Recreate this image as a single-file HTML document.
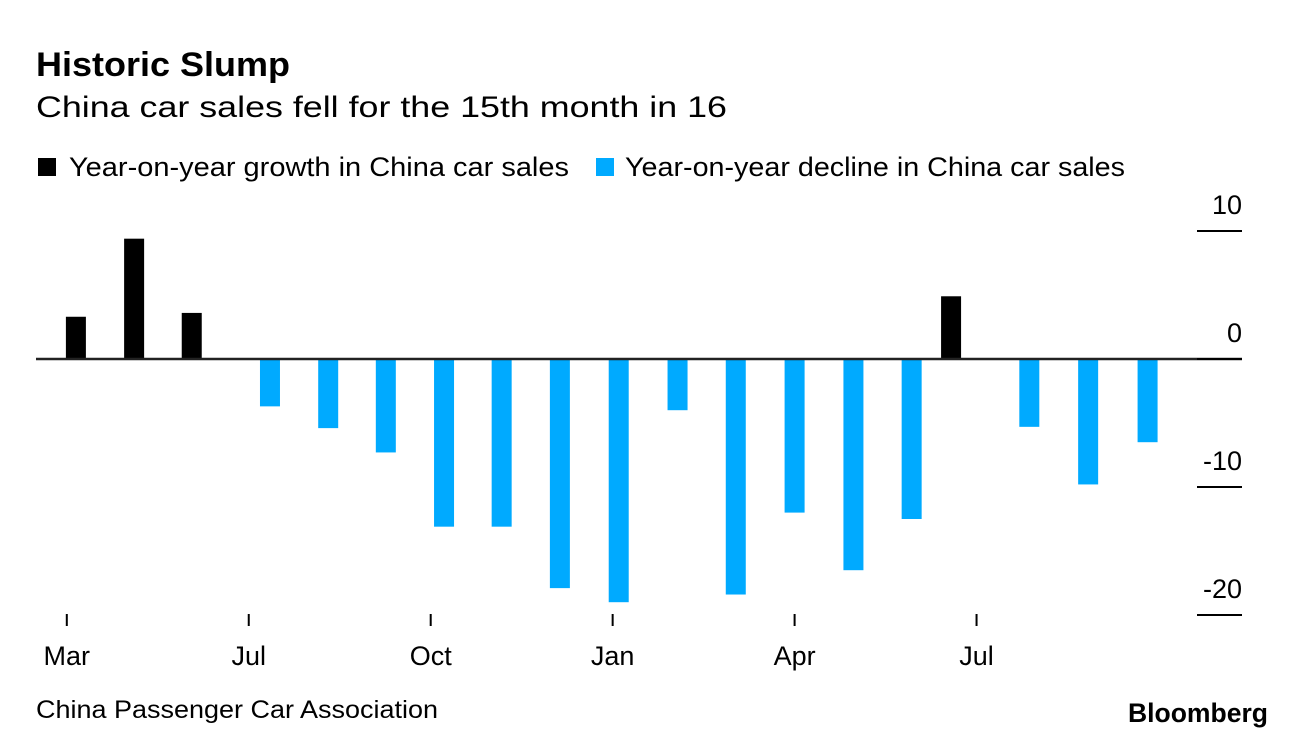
<!DOCTYPE html>
<html><head><meta charset="utf-8"><style>
html,body{margin:0;padding:0;background:#fff;}
svg{display:block;font-family:"Liberation Sans",Arial,sans-serif;}
</style></head><body>
<svg id="chart" width="1296" height="738" viewBox="0 0 1296 738">
<text x="36" y="76" font-size="34" font-weight="bold" textLength="254" lengthAdjust="spacingAndGlyphs">Historic Slump</text>
<text x="36" y="117" font-size="30" textLength="691" lengthAdjust="spacingAndGlyphs">China car sales fell for the 15th month in 16</text>
<g>
<g><rect x="38" y="158" width="18" height="18" fill="#000"/><text x="69" y="176" font-size="27" textLength="500" lengthAdjust="spacingAndGlyphs">Year-on-year growth in China car sales</text></g>
<g><rect x="596" y="158" width="18" height="18" fill="#00aaff"/><text x="625" y="176" font-size="27" textLength="500" lengthAdjust="spacingAndGlyphs">Year-on-year decline in China car sales</text></g>
</g>
<g id="bars"></g>
<g id="yaxis"></g>
<g id="xaxis"></g>
<text x="36" y="718" font-size="25" textLength="402" lengthAdjust="spacingAndGlyphs">China Passenger Car Association</text>
<text x="1268" y="722" font-size="27" font-weight="bold" text-anchor="end" textLength="140" lengthAdjust="spacingAndGlyphs">Bloomberg</text>
</svg>
<script>
// bar positions in axis units (as drawn in the reference)
const periods = [0.15,1.11,2.06,3.35,4.31,5.26,6.22,7.17,8.13,9.1,10.07,11.03,12.0,12.97,13.93,14.58,15.87,16.84,17.82];
const values = [3.3,9.4,3.6,-3.7,-5.4,-7.3,-13.1,-13.1,-17.9,-19.0,-4.0,-18.4,-12.0,-16.5,-12.5,4.9,-5.3,-9.8,-6.5];
const yTicks = [10,0,-10,-20];
const xTickMonths = [0,3,6,9,12,15];
const xTickLabels = ["Mar","Jul","Oct","Jan","Apr","Jul"];

const NS="http://www.w3.org/2000/svg";
const X0=66.8, PXM=60.65, Y0=359, PXU=12.8;
function x(m){return X0+m*PXM;}
function y(v){return Y0-v*PXU;}
function mk(tag,attrs,parent){const e=document.createElementNS(NS,tag);for(const k in attrs)e.setAttribute(k,attrs[k]);parent.appendChild(e);return e;}

const bars=document.getElementById('bars');
const yax=document.getElementById('yaxis');
const xax=document.getElementById('xaxis');

const zl=mk('line',{x1:36,x2:1242,y1:y(0),y2:y(0),stroke:'#222','stroke-width':2.5},yax);



for(let i=0;i<values.length;i++){
  const v=values[i];
  const top=Math.min(y(v),y(0)), h=Math.abs(y(v)-y(0));
  const r=mk('rect',{x:x(periods[i])-10,y:top,width:20,height:h,fill:v>=0?'#000':'#00aaff'},bars);
  
  
}

for(const t of yTicks){
  const l=mk('line',{x1:1197,x2:1242,y1:y(t),y2:y(t),stroke:'#000','stroke-width':2},yax);
  
  
  const tx=mk('text',{x:1242,y:y(t)-17,'font-size':27,'text-anchor':'end'},yax);
  tx.textContent=t;
  
  
}

for(let i=0;i<xTickMonths.length;i++){
  const px=x(xTickMonths[i]);
  const l=mk('line',{x1:px,x2:px,y1:614,y2:626,stroke:'#000','stroke-width':2},xax);
  
  
  const tx=mk('text',{x:px,y:665,'font-size':27,'text-anchor':'middle'},xax);
  tx.textContent=xTickLabels[i];
  
  
}
</script>
</body></html>
